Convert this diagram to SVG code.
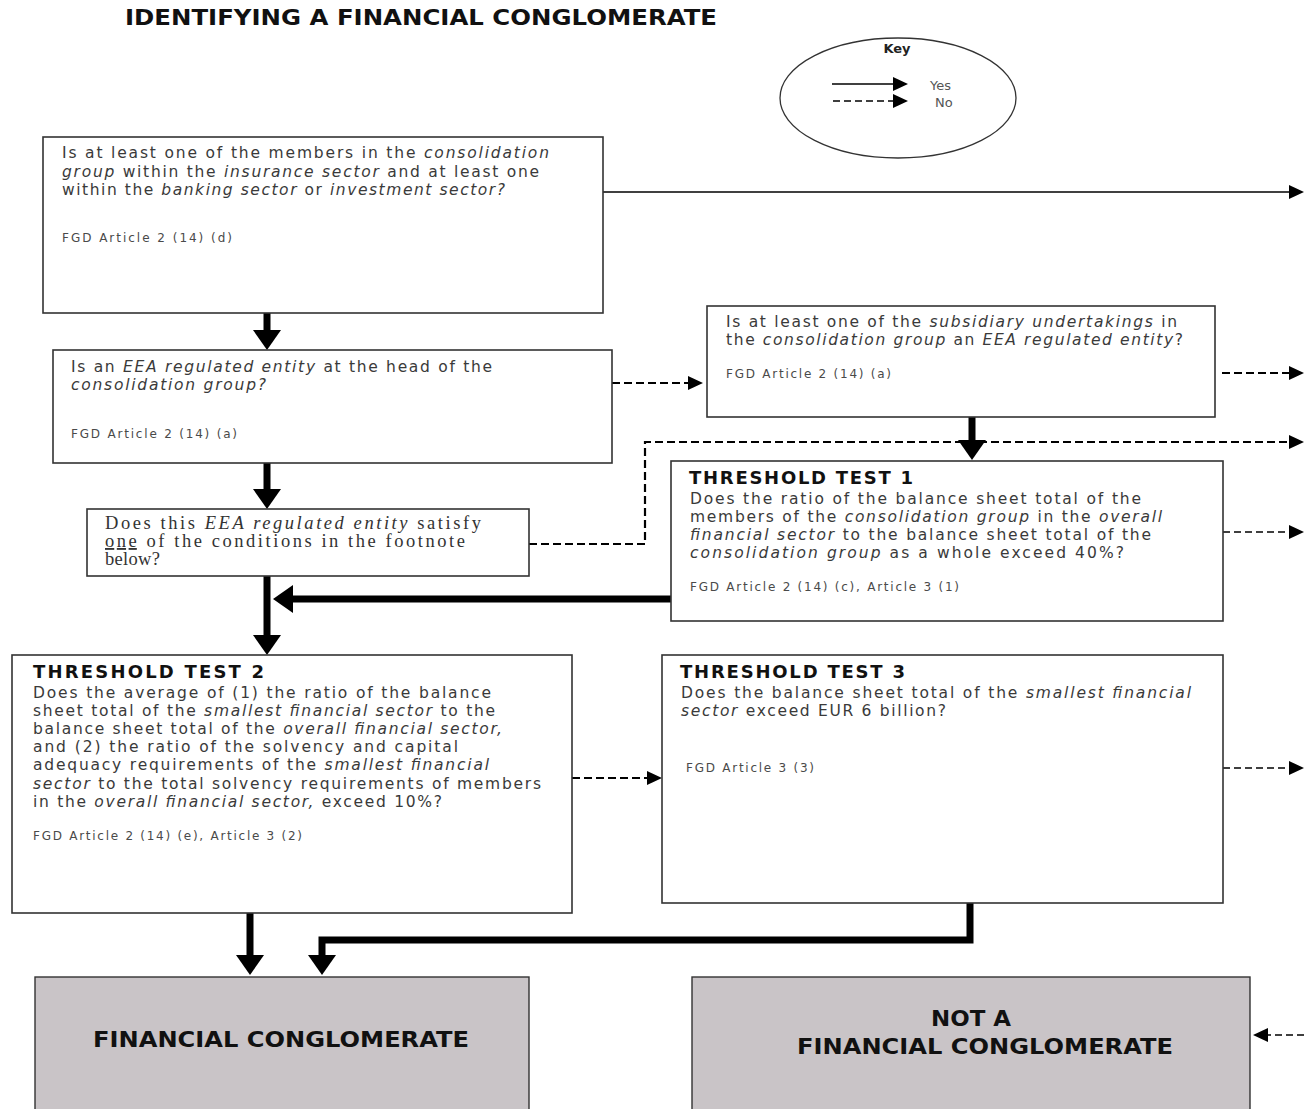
<svg xmlns="http://www.w3.org/2000/svg" width="1304" height="1109" viewBox="0 0 1304 1109">
<style>
.box{fill:#fff;stroke:#333;stroke-width:1.6}
.term{fill:#c9c4c7;stroke:#333;stroke-width:1.4}
.t{font-family:"DejaVu Sans",Verdana,sans-serif;font-size:15.5px;fill:#3a3a3a}
.c{font-family:"DejaVu Sans",Verdana,sans-serif;font-size:12px;fill:#4a4a4a}
.s{font-family:"Liberation Serif","Times New Roman",serif;font-size:18.5px;fill:#333}
.h{font-family:"DejaVu Sans",Verdana,sans-serif;font-size:18px;font-weight:bold;fill:#111}
.big{font-family:"DejaVu Sans",sans-serif;font-size:21px;font-weight:bold;fill:#111}
.i{font-style:italic}
.thick{stroke:#000;stroke-width:7;fill:none}
.thin{stroke:#000;stroke-width:1.5;fill:none}
.dash{stroke:#000;stroke-width:2.2;fill:none;stroke-dasharray:8 4}
.dashthin{stroke:#000;stroke-width:1.3;fill:none;stroke-dasharray:7 4}
</style>
<defs>
<marker id="hb" markerUnits="userSpaceOnUse" markerWidth="20" markerHeight="28" refX="0" refY="14" orient="auto" viewBox="0 0 20 28"><path d="M0,0 L20,14 L0,28 z" fill="#000"/></marker>
<marker id="hs" markerUnits="userSpaceOnUse" markerWidth="15" markerHeight="14" refX="0" refY="7" orient="auto" viewBox="0 0 15 14"><path d="M0,0 L15,7 L0,14 z" fill="#000"/></marker>
</defs>

<text x="125" y="25" class="big" textLength="592" lengthAdjust="spacingAndGlyphs">IDENTIFYING A FINANCIAL CONGLOMERATE</text>

<g id="key">
<ellipse cx="898" cy="98" rx="118" ry="60" fill="#fff" stroke="#333" stroke-width="1.3"/>
<text x="897" y="53" text-anchor="middle" font-family="DejaVu Sans,sans-serif" font-size="13" font-weight="bold" fill="#222">Key</text>
<line x1="832" y1="84" x2="893" y2="84" class="thin" marker-end="url(#hs)"/>
<line x1="833" y1="101" x2="893" y2="101" class="dashthin" marker-end="url(#hs)"/>
<text x="930" y="90" font-family="DejaVu Sans,sans-serif" font-size="13" fill="#555">Yes</text>
<text x="935" y="107" font-family="DejaVu Sans,sans-serif" font-size="13" fill="#555">No</text>
</g>

<g id="connectors">
<line x1="603" y1="192" x2="1289" y2="192" class="thin" marker-end="url(#hs)"/>
<line x1="267" y1="313" x2="267" y2="330" class="thick" marker-end="url(#hb)"/>
<line x1="612" y1="383" x2="688" y2="383" class="dash" marker-end="url(#hs)"/>
<line x1="1222" y1="373" x2="1289" y2="373" class="dash" marker-end="url(#hs)"/>
<line x1="972" y1="417" x2="972" y2="440" class="thick" marker-end="url(#hb)"/>
<polyline points="529,544 645,544 645,442 1289,442" class="dash" marker-end="url(#hs)"/>
<line x1="267" y1="463" x2="267" y2="489" class="thick" marker-end="url(#hb)"/>
<line x1="1223" y1="532" x2="1289" y2="532" class="dashthin" marker-end="url(#hs)"/>
<line x1="671" y1="599" x2="293" y2="599" class="thick" marker-end="url(#hb)"/>
<line x1="267" y1="576" x2="267" y2="635" class="thick" marker-end="url(#hb)"/>
<line x1="572" y1="778" x2="647" y2="778" class="dash" marker-end="url(#hs)"/>
<line x1="1223" y1="768" x2="1289" y2="768" class="dashthin" marker-end="url(#hs)"/>
<line x1="250" y1="913" x2="250" y2="955" class="thick" marker-end="url(#hb)"/>
<polyline points="970,903 970,940 322,940 322,955" class="thick" marker-end="url(#hb)"/>
<line x1="1304" y1="1035" x2="1268" y2="1035" class="dashthin" marker-end="url(#hs)"/>
</g>

<g id="q1">
<rect x="43" y="137" width="560" height="176" class="box"/>
<text x="62" y="158" class="t" textLength="487" lengthAdjust="spacing">Is at least one of the members in the <tspan class="i">consolidation</tspan></text>
<text x="62" y="177" class="t" textLength="477" lengthAdjust="spacing"><tspan class="i">group</tspan> within the <tspan class="i">insurance sector</tspan> and at least one</text>
<text x="62" y="195" class="t" textLength="443" lengthAdjust="spacing">within the <tspan class="i">banking sector</tspan> or <tspan class="i">investment sector?</tspan></text>
<text x="62" y="242" class="c" textLength="170" lengthAdjust="spacing">FGD Article 2 (14) (d)</text>
</g>

<g id="q2">
<rect x="53" y="350" width="559" height="113" class="box"/>
<text x="71" y="372" class="t" textLength="421" lengthAdjust="spacing">Is an <tspan class="i">EEA regulated entity</tspan> at the head of the</text>
<text x="71" y="390" class="t" textLength="195" lengthAdjust="spacing"><tspan class="i">consolidation group?</tspan></text>
<text x="71" y="438" class="c" textLength="166" lengthAdjust="spacing">FGD Article 2 (14) (a)</text>
</g>

<g id="q3">
<rect x="707" y="306" width="508" height="111" class="box"/>
<text x="726" y="327" class="t" textLength="451" lengthAdjust="spacing">Is at least one of the <tspan class="i">subsidiary undertakings</tspan> in</text>
<text x="726" y="345" class="t" textLength="457" lengthAdjust="spacing">the <tspan class="i">consolidation group</tspan> an <tspan class="i">EEA regulated entity</tspan>?</text>
<text x="726" y="378" class="c" textLength="165" lengthAdjust="spacing">FGD Article 2 (14) (a)</text>
</g>

<g id="q4">
<rect x="87" y="509" width="442" height="67" class="box"/>
<text x="105" y="529" class="s" textLength="376" lengthAdjust="spacing">Does this <tspan class="i">EEA regulated entity</tspan> satisfy</text>
<text x="105" y="547" class="s" textLength="360" lengthAdjust="spacing"><tspan text-decoration="underline">one</tspan> of the conditions in the footnote</text>
<text x="105" y="565" class="s" textLength="55" lengthAdjust="spacing">below?</text>
</g>

<g id="tt1">
<rect x="671" y="461" width="552" height="160" class="box"/>
<text x="689" y="484" class="h" textLength="224" lengthAdjust="spacing">THRESHOLD TEST 1</text>
<text x="690" y="504" class="t" textLength="451" lengthAdjust="spacing">Does the ratio of the balance sheet total of the</text>
<text x="690" y="522" class="t" textLength="472" lengthAdjust="spacing">members of the <tspan class="i">consolidation group</tspan> in the <tspan class="i">overall</tspan></text>
<text x="690" y="540" class="t" textLength="461" lengthAdjust="spacing"><tspan class="i">financial sector</tspan> to the balance sheet total of the</text>
<text x="690" y="558" class="t" textLength="434" lengthAdjust="spacing"><tspan class="i">consolidation group</tspan> as a whole exceed 40%?</text>
<text x="690" y="591" class="c" textLength="269" lengthAdjust="spacing">FGD Article 2 (14) (c), Article 3 (1)</text>
</g>

<g id="tt2">
<rect x="12" y="655" width="560" height="258" class="box"/>
<text x="33" y="678" class="h" textLength="231" lengthAdjust="spacing">THRESHOLD TEST  2</text>
<text x="33" y="698" class="t" textLength="458" lengthAdjust="spacing">Does the average of (1) the ratio of the balance</text>
<text x="33" y="716" class="t" textLength="462" lengthAdjust="spacing">sheet total of the <tspan class="i">smallest financial sector</tspan> to the</text>
<text x="33" y="734" class="t" textLength="469" lengthAdjust="spacing">balance sheet total of the <tspan class="i">overall financial sector,</tspan></text>
<text x="33" y="752" class="t" textLength="425" lengthAdjust="spacing">and (2) the ratio of the solvency and capital</text>
<text x="33" y="770" class="t" textLength="456" lengthAdjust="spacing">adequacy requirements of the <tspan class="i">smallest financial</tspan></text>
<text x="33" y="789" class="t" textLength="508" lengthAdjust="spacing"><tspan class="i">sector</tspan> to the total solvency requirements of members</text>
<text x="33" y="807" class="t" textLength="409" lengthAdjust="spacing">in the <tspan class="i">overall financial sector,</tspan>  exceed 10%?</text>
<text x="33" y="840" class="c" textLength="269" lengthAdjust="spacing">FGD Article 2 (14) (e), Article 3 (2)</text>
</g>

<g id="tt3">
<rect x="662" y="655" width="561" height="248" class="box"/>
<text x="680" y="678" class="h" textLength="225" lengthAdjust="spacing">THRESHOLD TEST 3</text>
<text x="681" y="698" class="t" textLength="510" lengthAdjust="spacing">Does the balance sheet total of the <tspan class="i">smallest financial</tspan></text>
<text x="681" y="716" class="t" textLength="265" lengthAdjust="spacing"><tspan class="i">sector</tspan> exceed EUR 6 billion?</text>
<text x="686" y="772" class="c" textLength="128" lengthAdjust="spacing">FGD Article 3 (3)</text>
</g>

<g id="fc">
<rect x="35" y="977" width="494" height="140" class="term"/>
<text x="93" y="1047" class="big" textLength="376" lengthAdjust="spacingAndGlyphs">FINANCIAL CONGLOMERATE</text>
</g>

<g id="nfc">
<rect x="692" y="977" width="558" height="140" class="term"/>
<text x="931" y="1026" class="big" textLength="80" lengthAdjust="spacingAndGlyphs">NOT A</text>
<text x="797" y="1054" class="big" textLength="376" lengthAdjust="spacingAndGlyphs">FINANCIAL CONGLOMERATE</text>
</g>
</svg>
